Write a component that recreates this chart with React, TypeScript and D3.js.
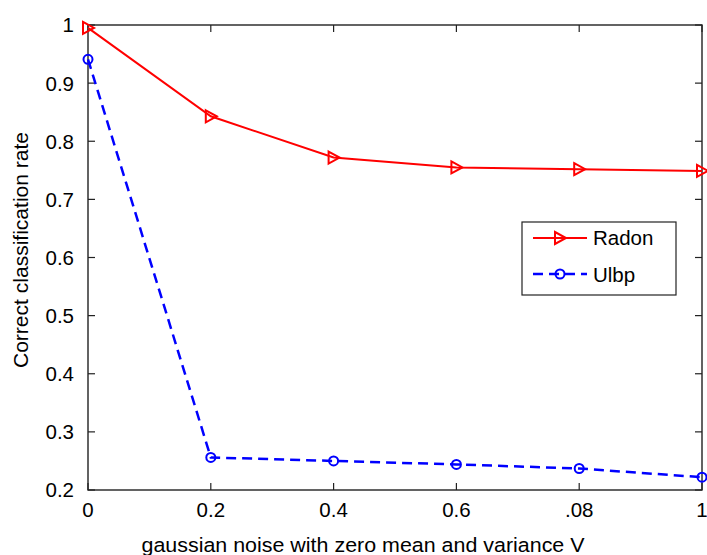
import React from 'react';
import * as d3 from 'd3';

// values
const noise = [0, 0.2, 0.4, 0.6, 0.8, 1];
const xTickLabels = ['0', '0.2', '0.4', '0.6', '.08', '1'];
const radon = [0.995, 0.843, 0.772, 0.755, 0.752, 0.749];
const ulbp = [0.941, 0.256, 0.25, 0.244, 0.237, 0.222];
const yTicks = [0.2, 0.3, 0.4, 0.5, 0.6, 0.7, 0.8, 0.9, 1];

const W = 707, H = 555;
const left = 88, right = 702, top = 25, bottom = 490;
const font = '"Liberation Sans", Arial, sans-serif';

export default function App() {
  const x = d3.scaleLinear().domain([0, 1]).range([left, right]);
  const y = d3.scaleLinear().domain([0.2, 1]).range([bottom, top]);

  const line = d3.line<number>()
    .x((_, i) => x(noise[i]))
    .y((d) => y(d));

  const tri = 'M-5,-6 L6,0 L-5,6 Z';
  const tl = 7;

  return (
    <svg width={W} height={H} style={{ position: 'absolute', left: 0, top: 0, background: '#fff' }}
      fontFamily={font}>
      {/* ticks */}
      {yTicks.map((t) => (
        <g key={'y' + t}>
          <line x1={left} x2={left + tl} y1={y(t)} y2={y(t)} stroke="#222" strokeWidth={1.2} />
          <line x1={right} x2={right - tl} y1={y(t)} y2={y(t)} stroke="#222" strokeWidth={1.2} />
          <text x={74} y={y(t)} dy="0.36em" textAnchor="end" fontSize={20.5}>{t === 1 ? '1' : String(t)}</text>
        </g>
      ))}
      {noise.map((t, i) => (
        <g key={'x' + t}>
          <line x1={x(t)} x2={x(t)} y1={bottom} y2={bottom - tl} stroke="#222" strokeWidth={1.2} />
          <line x1={x(t)} x2={x(t)} y1={top} y2={top + tl} stroke="#222" strokeWidth={1.2} />
          <text x={x(t)} y={517} textAnchor="middle" fontSize={20.5}>{xTickLabels[i]}</text>
        </g>
      ))}
      <rect x={left} y={top} width={right - left} height={bottom - top} fill="none" stroke="#222" strokeWidth={1.4} />

      {/* series */}
      <path d={line(radon) || ''} fill="none" stroke="#ff0000" strokeWidth={2} />
      {radon.map((v, i) => (
        <path key={'r' + i} d={tri} transform={`translate(${x(noise[i])},${y(v)})`}
          fill="none" stroke="#ff0000" strokeWidth={2} />
      ))}
      <path d={line(ulbp) || ''} fill="none" stroke="#0000ff" strokeWidth={2.5} strokeDasharray="10,6" />
      {ulbp.map((v, i) => (
        <circle key={'u' + i} cx={x(noise[i])} cy={y(v)} r={4.5}
          fill="none" stroke="#0000ff" strokeWidth={2} />
      ))}

      {/* legend */}
      <rect x={522} y={222} width={154} height={73} fill="#fff" stroke="#222" strokeWidth={1.2} />
      <line x1={533} x2={587} y1={238} y2={238} stroke="#ff0000" strokeWidth={2} />
      <path d={tri} transform="translate(560,238)" fill="none" stroke="#ff0000" strokeWidth={2} />
      <text x={593} y={245} fontSize={20.5}>Radon</text>
      <line x1={533} x2={587} y1={274} y2={274} stroke="#0000ff" strokeWidth={2.5} strokeDasharray="10,6" />
      <circle cx={560} cy={274} r={4.5} fill="none" stroke="#0000ff" strokeWidth={2} />
      <text x={593} y={282} fontSize={20.5}>Ulbp</text>

      {/* axis labels */}
      <text x={363} y={552} textAnchor="middle" fontSize={20.5}
        textLength={443} lengthAdjust="spacingAndGlyphs">gaussian noise with zero mean and variance V</text>
      <text transform="translate(28,250) rotate(-90)" textAnchor="middle" fontSize={20.5}
        textLength={236} lengthAdjust="spacingAndGlyphs">Correct classification rate</text>
    </svg>
  );
}
